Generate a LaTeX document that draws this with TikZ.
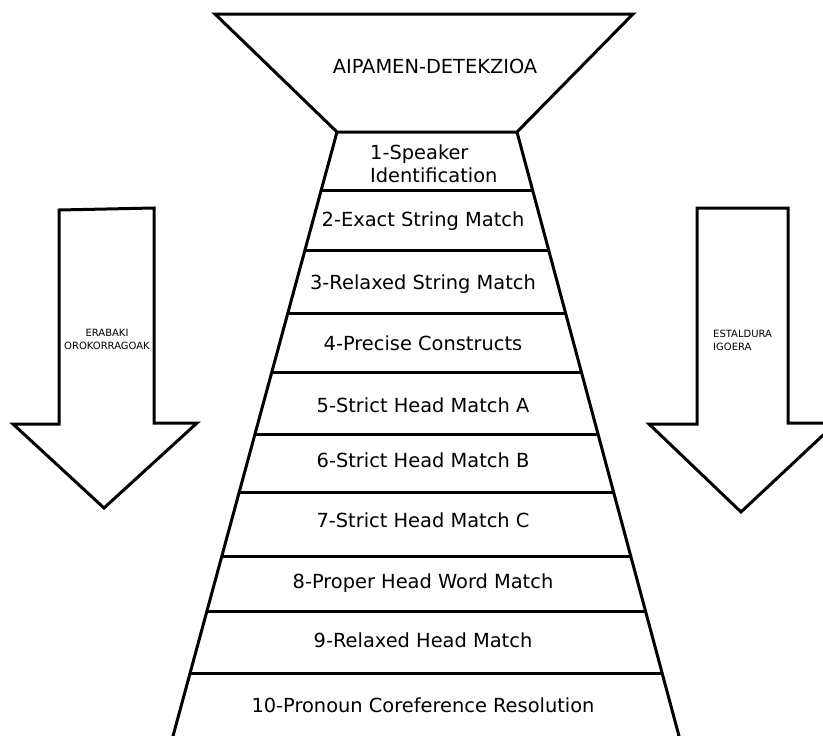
\documentclass[tikz,border=0pt]{standalone}
\usepackage{fontspec}
\setmainfont{DejaVu Sans}
\usetikzlibrary{calc}
\tikzset{
  outline/.style={line width=3pt, line join=miter, black},
  steplabel/.style={font=\fontsize{19.4}{23}\selectfont, inner sep=1pt},
  arrowlabel/.style={font=\fontsize{10}{13}\selectfont, inner sep=1pt},
}
\begin{document}
\begin{tikzpicture}[x=1pt,y=-1pt]
    \useasboundingbox (0,0) rectangle (823,736);
    \clip (0,0) rectangle (823,736);

    % funnel top
    \coordinate (ftl) at (215,14);
    \coordinate (ftr) at (633,14);
    \coordinate (tl) at (337,132);
    \coordinate (tr) at (517,132);
    \draw[outline] (ftl) -- (ftr) -- (tr) -- (tl) -- cycle;
    \node (detect) at (435,66) [steplabel] {AIPAMEN-DETEKZIOA};

    % stack of sieves
    \coordinate (bl) at (173,736);
    \coordinate (br) at (679,736);
    \draw[outline] (tl) -- ($(tl)!1.01!(bl)$);
    \draw[outline] (tr) -- ($(tr)!1.01!(br)$);
    \foreach \y in {191,251,313,373,435,492,557,611,674}
        \draw[outline] ($(tl)!{(\y-132)/604}!(bl)$) -- ($(tr)!{(\y-132)/604}!(br)$);

    \node (s1) at (369,164) [steplabel,align=left,anchor=west] {1-Speaker\\Identification};
    \foreach \n/\y/\txt in {2/221/2-Exact String Match,
                            3/284/3-Relaxed String Match,
                            4/343/4-Precise Constructs,
                            5/405/5-Strict Head Match A,
                            6/460/6-Strict Head Match B,
                            7/520/7-Strict Head Match C,
                            8/583/8-Proper Head Word Match,
                            9/640/9-Relaxed Head Match,
                            10/705/10-Pronoun Coreference Resolution}
        \node (s\n) at (423,\y) [steplabel] {\txt};

    % left arrow
    \draw[outline] (59,210) -- (154,208) -- (154,423) -- (197,423) -- (104,508)
        -- (13,424) -- (59,424) -- cycle;
    \node (general) at (107,339) [arrowlabel,align=center] {ERABAKI\\OROKORRAGOAK};

    % right arrow
    \draw[outline] (697,208) -- (788,208) -- (788,423) -- (836,423) -- (741,512)
        -- (649,424) -- (697,424) -- cycle;
    \node (coverage) at (712,340) [arrowlabel,align=left,anchor=west] {ESTALDURA\\IGOERA};
\end{tikzpicture}
\end{document}
